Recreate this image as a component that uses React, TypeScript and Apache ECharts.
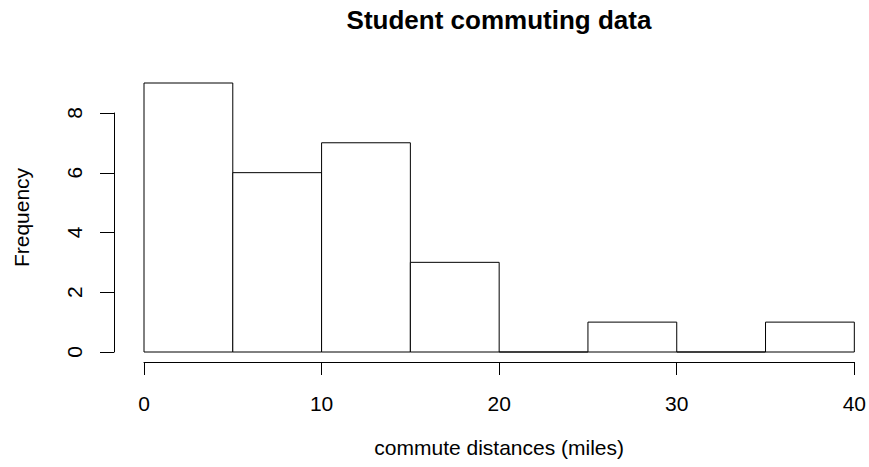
import React, { useEffect, useRef } from "react";
import * as echarts from "echarts";

const binStarts = [0, 5, 10, 15, 20, 25, 30, 35];
const binEnds = [5, 10, 15, 20, 25, 30, 35, 40];
const counts = [9, 6, 7, 3, 0, 1, 0, 1];
const xTicks = [0, 10, 20, 30, 40];
const yTicks = [0, 2, 4, 6, 8];

const FONT = "Liberation Sans, Arial, Helvetica, sans-serif";

export default function App() {
  const ref = useRef<HTMLDivElement>(null);
  useEffect(() => {
    if (!ref.current) return;
    const chart = echarts.init(ref.current, undefined, { renderer: "svg" });
    const data = binStarts.map((s, i) => [s, binEnds[i], counts[i]]);
    chart.setOption({
      animation: false,
      backgroundColor: "#ffffff",
      textStyle: { fontFamily: FONT, color: "#000" },
      title: {
        text: "Student commuting data",
        left: 494,
        top: 2,
        textAlign: "center",
        textStyle: { fontFamily: FONT, fontSize: 26, fontWeight: "bold", color: "#000" },
      },
      grid: [
        { left: 144, right: 14, top: 83, bottom: 115, containLabel: false },
        { left: 144, right: 14, top: 113, bottom: 115, containLabel: false },
      ],
      xAxis: [
        {
          type: "value",
          gridIndex: 0,
          min: xTicks[0],
          max: xTicks[xTicks.length - 1],
          interval: 10,
          offset: 10,
          axisLine: { show: true, onZero: false, lineStyle: { color: "#000", width: 1 } },
          axisTick: { show: true, length: 13, lineStyle: { color: "#000", width: 1 } },
          axisLabel: { fontSize: 21, color: "#000", margin: 31, fontFamily: FONT },
          splitLine: { show: false },
          name: "commute distances (miles)",
          nameLocation: "middle",
          nameGap: 75,
          nameTextStyle: { fontSize: 21, color: "#000", fontFamily: FONT },
        },
        { type: "value", gridIndex: 1, min: 0, max: 40, show: false },
      ],
      yAxis: [
        {
          type: "value",
          gridIndex: 0,
          min: 0,
          max: 9,
          offset: 30,
          axisLine: { show: false, onZero: false },
          axisTick: { show: false },
          axisLabel: { show: false },
          splitLine: { show: false },
          name: "Frequency",
          nameLocation: "middle",
          nameRotate: 90,
          nameGap: 82,
          nameTextStyle: { fontSize: 21, color: "#000", fontFamily: FONT },
        },
        {
          type: "value",
          gridIndex: 1,
          min: yTicks[0],
          max: yTicks[yTicks.length - 1],
          interval: 2,
          offset: 30,
          axisLine: { show: true, onZero: false, lineStyle: { color: "#000", width: 1 } },
          axisTick: { show: true, length: 14, lineStyle: { color: "#000", width: 1 } },
          axisLabel: { fontSize: 21, color: "#000", margin: 29, rotate: 90, fontFamily: FONT },
          splitLine: { show: false },
        },
      ],
      series: [
        {
          type: "custom",
          xAxisIndex: 0,
          yAxisIndex: 0,
          clip: false,
          data,
          renderItem: (params: any, api: any) => {
            const p0 = api.coord([api.value(0), api.value(2)]);
            const p1 = api.coord([api.value(1), 0]);
            return {
              type: "rect",
              shape: { x: p0[0], y: p0[1], width: p1[0] - p0[0], height: p1[1] - p0[1] },
              style: { fill: "#ffffff", stroke: "#000000", lineWidth: 1 },
            };
          },
        },
      ],
    });
    return () => chart.dispose();
  }, []);
  return (
    <div
      ref={ref}
      style={{ position: "fixed", left: 0, top: 0, width: 869, height: 467 }}
    />
  );
}
